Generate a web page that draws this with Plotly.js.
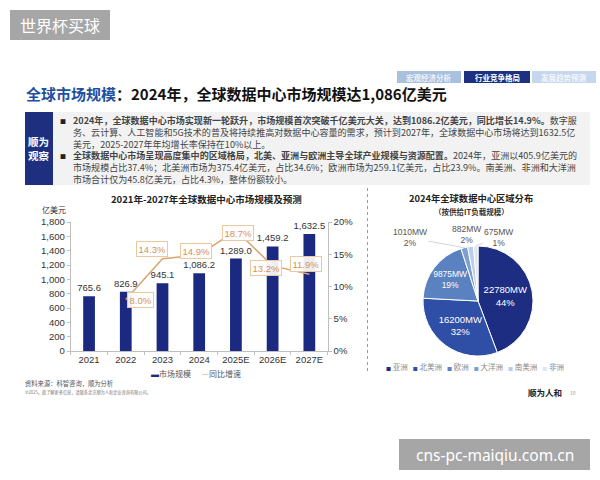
<!DOCTYPE html>
<html><head><meta charset="utf-8">
<script src="https://cdn.plot.ly/plotly-3.0.1.min.js"></script>
<style>html,body{margin:0;padding:0;background:#fff;}#chart{width:600px;height:480px;}</style>
</head><body><div id="chart"></div>
<script>
// ---------- data ----------
const years = ['2021', '2022', '2023', '2024', '2025E', '2026E', '2027E'];
const marketSize = [765.6, 826.9, 945.1, 1086.2, 1289.0, 1459.2, 1632.5];   // 亿美元
const growthRate = [null, 0.080, 0.143, 0.149, 0.187, 0.132, 0.119];        // 同比增速
const regions = ['亚洲', '北美洲', '欧洲', '大洋洲', '南美洲', '非洲'];
const capacityMW = [22780, 16200, 9875, 1010, 882, 675];
const barName = '市场规模';
const lineName = '同比增速';

// ---------- styles ----------
const W = 600, H = 480;
const X = p => p / W, Y = p => 1 - p / H;
const CJK = "'Noto Sans CJK SC', 'Noto Sans', sans-serif";
const NUM = "'Liberation Sans Narrow', 'Arial Narrow', 'Liberation Sans', Arial, sans-serif";
const barColor = '#1b2a80';
const lineColor = '#dba46e';
const pieColors = ['#1c2d82', '#2f4fa6', '#5a81c0', '#7f9fd1', '#bccde7', '#dde6f2'];
const growthLabelShift = [null, [15, -1], [-10, 10], [-3, 4], [2, -3], [-7, -2], [-3, 10]];
const smallLabelShift = {3: [-54, -10], 4: [-4, -12], 5: [23, -9]};
const pieCx = 478, pieCy = 301, pieR = 55;

// ---------- traces ----------
const total = capacityMW.reduce((a, b) => a + b, 0);
const bigSlice = capacityMW.map(v => v / total > 0.05);

const traces = [
  {
    type: 'bar', name: barName, x: years, y: marketSize, xaxis: 'x', yaxis: 'y',
    marker: {color: barColor}, width: 0.32,
    texttemplate: '%{y:,.1f}', textposition: 'outside', cliponaxis: false, constraintext: 'none',
    textfont: {family: NUM, size: 9.5, color: '#333'}, hoverinfo: 'skip', showlegend: false
  },
  {
    type: 'scatter', mode: 'lines', name: lineName, x: years, y: growthRate, xaxis: 'x', yaxis: 'y2',
    line: {color: lineColor, width: 1.5}, hoverinfo: 'skip', showlegend: false
  },
  {
    type: 'pie', labels: regions, values: capacityMW, sort: false, direction: 'clockwise', rotation: 0,
    marker: {colors: pieColors, line: {color: '#ffffff', width: 1}},
    texttemplate: '%{value:d}MW<br>%{percent:.0%}',
    textposition: bigSlice.map(b => b ? 'inside' : 'none'),
    insidetextorientation: 'horizontal',
    textfont: {family: "'Liberation Sans', Arial, sans-serif", size: 9.5, color: '#ffffff'},
    domain: {x: [X(pieCx - pieR), X(pieCx + pieR)], y: [Y(pieCy + pieR), Y(pieCy - pieR)]},
    hoverinfo: 'skip', showlegend: false
  }
];

// ---------- annotations & shapes ----------
const ann = [];
const shapes = [];
function txt(x, y, text, size, color, opts) {
  ann.push(Object.assign({xref: 'paper', yref: 'paper', x: X(x), y: Y(y), text: text, showarrow: false,
    font: {family: CJK, size: size, color: color}, xanchor: 'left', yanchor: 'middle'}, opts || {}));
}
function rect(x0, y0, x1, y1, color, extra) {
  shapes.push(Object.assign({type: 'rect', xref: 'paper', yref: 'paper', x0: X(x0), x1: X(x1), y0: Y(y1), y1: Y(y0),
    fillcolor: color, line: {width: 0}, layer: 'below'}, extra || {}));
}

// watermarks
rect(10, 10, 110, 40, '#a6a6a6');
txt(60, 25, '世界杯买球', 16, '#ffffff', {xanchor: 'center'});
rect(399, 439, 590, 470, '#a6a6a6');
txt(494.5, 455, 'cns-pc-maiqiu.com.cn', 15.5, '#ffffff', {xanchor: 'center', font: {family: "'Noto Sans', sans-serif", size: 15.5, color: '#ffffff'}});

// tabs
const tabs = [['宏观经济分析', 397, 461, '#a9c0df', '#eef3fa'], ['行业竞争格局', 464, 530, '#1d3180', '#ffffff'], ['发展趋势预测', 532, 596, '#c6d6ec', '#f4f7fc']];
tabs.forEach(t => { rect(t[1], 71, t[2], 83, t[3]); txt((t[1] + t[2]) / 2, 77, '<b>' + t[0] + '</b>', 7.5, t[4], {xanchor: 'center'}); });

// main title
txt(24, 94, '<b><span style="color:#1f4fa0">全球市场规模</span>：2024年，全球数据中心市场规模达1,086亿美元</b>', 15, '#111111');

// observation box
rect(25, 112, 590, 185, '#f2f2f2');
rect(25, 112, 53, 185, '#1d2f7e');
txt(39, 148.5, '<b>顺为<br>观察</b>', 10.5, '#ffffff', {xanchor: 'center'});
const bodyLines = [
  '<b>2024年，全球数据中心市场实现新一轮跃升，市场规模首次突破千亿美元大关，达到1086.2亿美元，同比增长14.9%。</b>数字服',
  '务、云计算、人工智能和5G技术的普及将持续推高对数据中心容量的需求，预计到2027年，全球数据中心市场将达到1632.5亿',
  '美元，2025-2027年年均增长率保持在10%以上。',
  '<b>全球数据中心市场呈现高度集中的区域格局，北美、亚洲与欧洲主导全球产业规模与资源配置。</b>2024年，亚洲以405.9亿美元的',
  '市场规模占比37.4%；北美洲市场为375.4亿美元，占比34.6%；欧洲市场为259.1亿美元，占比23.9%。南美洲、非洲和大洋洲',
  '市场合计仅为45.8亿美元，占比4.3%，整体份额较小。'
];
txt(72, 150.5, bodyLines.join('<br>'), 9.05, '#444444', {align: 'left', borderpad: 0});
txt(63, 121.5, '■', 6, '#222', {xanchor: 'center', borderpad: 0});
txt(63, 156.5, '■', 6, '#222', {xanchor: 'center', borderpad: 0});

// chart titles
txt(207, 199, '<b>2021年-2027年全球数据中心市场规模及预测</b>', 9.5, '#222', {xanchor: 'center'});
txt(54, 209, '亿美元', 8, '#333', {xanchor: 'center'});
txt(471, 198, '<b>2024年全球数据中心区域分布</b>', 9.3, '#222', {xanchor: 'center'});
txt(471, 211.5, '<b>（按供给IT负载规模）</b>', 7.5, '#333', {xanchor: 'center'});

// divider
shapes.push({type: 'line', xref: 'paper', yref: 'paper', x0: X(367.5), x1: X(367.5), y0: Y(188), y1: Y(372), line: {color: '#9a9a9a', width: 1, dash: 'dot'}});

// growth labels (category axis: positions are category indices)
growthRate.forEach((g, i) => {
  if (g === null) return;
  ann.push({xref: 'x', yref: 'y2', x: i, y: g, text: (g * 100).toFixed(1) + '%', showarrow: false,
    font: {family: NUM, size: 9.5, color: '#d4925a'}, bgcolor: 'rgba(255,255,255,0.92)', bordercolor: '#ebc8a2',
    borderwidth: 1, borderpad: 1.5, xshift: growthLabelShift[i][0], yshift: growthLabelShift[i][1]});
});

// bar chart legend (drawn from trace names / colours)
txt(196, 373, '<span style="color:' + barColor + '">▬</span>' + barName + '\u00a0\u00a0\u00a0\u00a0\u00a0\u00a0<span style="color:' + lineColor + '">—</span>' + lineName, 8, '#555', {xanchor: 'center'});

// small pie slice labels with leader lines
let cum = 0;
capacityMW.forEach((v, i) => {
  const mid = (cum + v / 2) / total * 2 * Math.PI;
  cum += v;
  if (bigSlice[i]) return;
  const tx = pieCx + pieR * Math.sin(mid), ty = pieCy - pieR * Math.cos(mid);
  const s = smallLabelShift[i];
  ann.push({xref: 'paper', yref: 'paper', x: X(tx), y: Y(ty), ax: s[0], ay: s[1],
    text: v + 'MW<br>' + Math.round(v / total * 100) + '%', showarrow: true, arrowhead: 0, arrowwidth: 0.8,
    arrowcolor: '#c9c9c9', standoff: 0, font: {family: "'Liberation Sans', Arial, sans-serif", size: 8.5, color: '#555'}});
});

// pie legend (drawn from region names / colours)
const pieLegend = regions.map((r, i) => '<span style="color:' + pieColors[i] + ';font-size:5px">■</span>\u00a0' + r).join('\u00a0\u00a0\u00a0');
txt(474.5, 366, pieLegend, 7.5, '#888', {xanchor: 'center'});

// footer
txt(23, 383, '资料来源：科智咨询，顺为分析', 6.3, '#555');
txt(23, 392, '©2025。欲了解更多信息，请联系北京顺为人和企业咨询有限公司。', 4.2, '#777');
txt(545, 392, '<b>顺为人和</b>', 8.5, '#222', {xanchor: 'center'});
txt(573, 392, '10', 5, '#999', {xanchor: 'center'});

// ---------- layout ----------
const axisLine = '#bfbfbf';
const tickFont = {family: NUM, size: 9.5, color: '#333'};
const layout = {
  width: W, height: H, margin: {l: 0, r: 0, t: 0, b: 0}, paper_bgcolor: '#ffffff', plot_bgcolor: 'rgba(0,0,0,0)',
  showlegend: false,
  xaxis: {domain: [X(70.7), X(327.7)], type: 'category', range: [-0.5, years.length - 0.5], autorange: false,
    showline: true, linecolor: axisLine, ticks: 'outside', tickangle: 0,
    tickson: 'boundaries', ticklen: 3, tickcolor: axisLine, tickfont: tickFont},
  yaxis: {domain: [Y(351), Y(222)], range: [0, 1800], autorange: false, dtick: 200, tickformat: ',', showgrid: false, zeroline: false,
    showline: true, linecolor: axisLine, ticks: 'outside', ticklen: 3, tickcolor: axisLine, tickfont: tickFont},
  yaxis2: {overlaying: 'y', side: 'right', range: [0, 0.2], autorange: false, dtick: 0.05, tickformat: '.0%', showgrid: false, zeroline: false,
    showline: true, linecolor: axisLine, ticks: 'outside', ticklen: 3, tickcolor: axisLine, tickfont: tickFont},
  annotations: ann, shapes: shapes
};
Plotly.newPlot('chart', traces, layout, {staticPlot: true, displayModeBar: false});
</script></body></html>
